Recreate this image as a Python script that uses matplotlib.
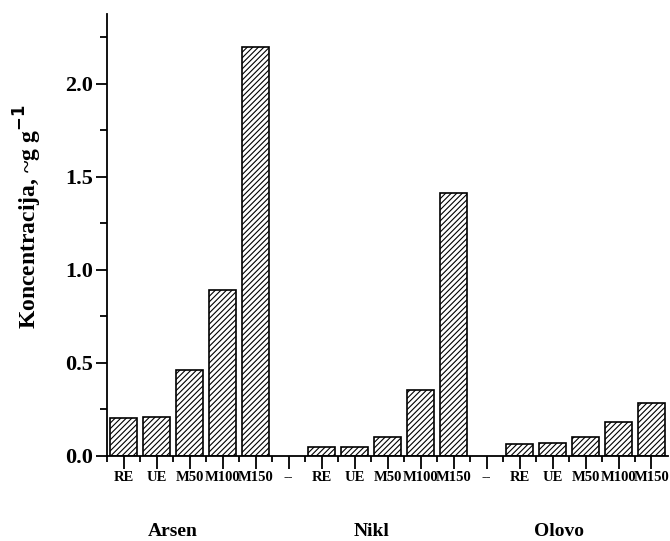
import numpy as np
import matplotlib.pyplot as plt
from matplotlib.ticker import MultipleLocator

plt.rcParams['font.family'] = ['Liberation Serif', 'DejaVu Serif']
plt.rcParams['font.weight'] = 'bold'
plt.rcParams['hatch.linewidth'] = 0.8

samples = ["RE", "UE", "M50", "M100", "M150"]
metals = ["Arsen", "Nikl", "Olovo"]
arsen = [0.20, 0.205, 0.46, 0.89, 2.20]
nikl = [0.045, 0.045, 0.10, 0.35, 1.41]
olovo = [0.06, 0.065, 0.10, 0.18, 0.28]

# three groups of five bars, with an empty "--" slot between groups
labels = samples + ["--"] + samples + ["--"] + samples
values = arsen + [0] + nikl + [0] + olovo
x = np.arange(len(labels))
group_x = [1.5, 7.5, 13.2]

fig = plt.figure(figsize=(6.7, 5.41), dpi=100)
ax = fig.add_axes([0.16, 0.158, 0.837, 0.816])

for xi, v, lab in zip(x, values, labels):
    if lab == "--":
        continue
    ax.bar(xi, v, width=0.82, facecolor="white", edgecolor="black",
           linewidth=1.2, hatch="//////")

ax.set_xlim(-0.5, 16.5)
ax.set_ylim(0, 2.375)
ax.set_xticks(x)
ax.set_xticklabels(labels, fontsize=10.5, fontweight="bold")
ax.set_xticks(x - 0.5, minor=True)
ax.yaxis.set_minor_locator(MultipleLocator(0.25))
ax.set_yticks([0, 0.5, 1.0, 1.5, 2.0])
ax.set_yticklabels(["0.0", "0.5", "1.0", "1.5", "2.0"], fontsize=16, fontweight="bold")

ax.tick_params(axis="x", which="major", direction="out", length=9, width=1.3, pad=2)
ax.tick_params(axis="x", which="minor", direction="out", length=4, width=1.3)
ax.tick_params(axis="y", which="major", direction="out", length=8, width=1.3, pad=2)
ax.tick_params(axis="y", which="minor", direction="out", length=5, width=1.3)

for s in ["top", "right"]:
    ax.spines[s].set_visible(False)
for s in ["left", "bottom"]:
    ax.spines[s].set_linewidth(1.3)

ax.set_ylabel("Koncentracija, ~g g$^{\\mathbf{-1}}$", fontsize=17, fontweight="bold")
ax.yaxis.set_label_coords(-0.112, 0.54)

for gx, name in zip(group_x, metals):
    ax.text(gx, -0.453, name, ha="center", va="bottom", fontsize=14,
            fontweight="bold")

fig.savefig("out.png", dpi=100)
